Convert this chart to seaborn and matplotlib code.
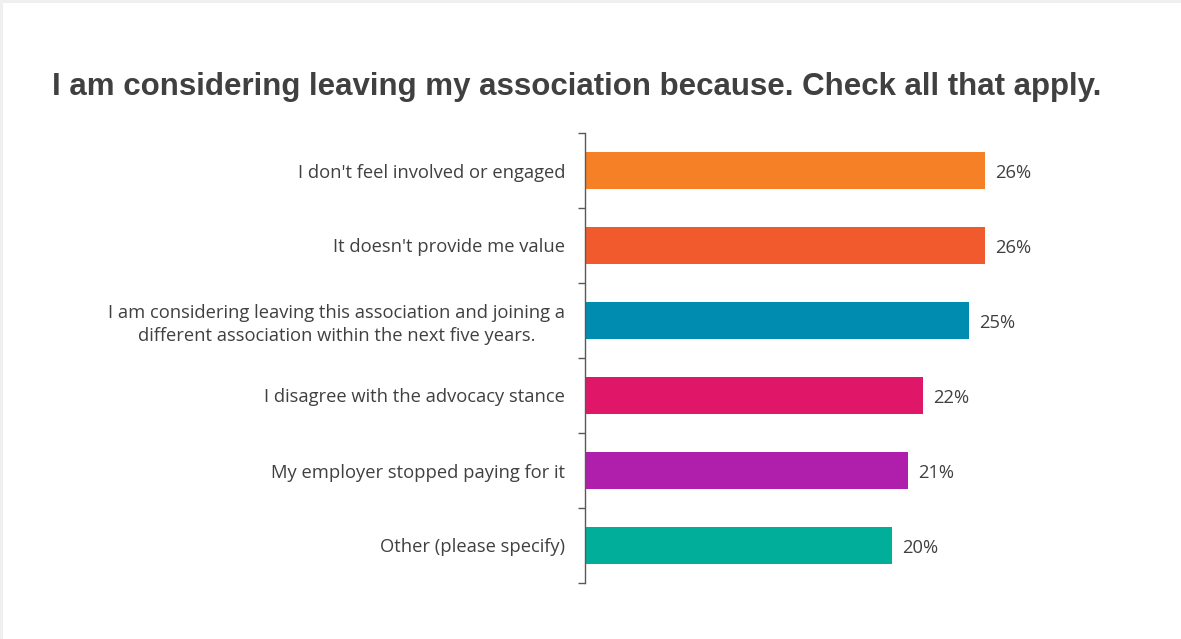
import matplotlib
matplotlib.use("Agg")
import matplotlib.pyplot as plt
import seaborn as sns
import pandas as pd

# Survey responses: reasons for leaving the association
reasons = [
    "I don't feel involved or engaged",
    "It doesn't provide me value",
    "I am considering leaving this association and joining a\ndifferent association within the next five years.",
    "I disagree with the advocacy stance",
    "My employer stopped paying for it",
    "Other (please specify)",
]
shares = [26, 26, 25, 22, 21, 20]
colors = ["#F58025", "#F05A2C", "#008BB0", "#E01768", "#B01EAC", "#00AE9A"]

title = "I am considering leaving my association because. Check all that apply."

df = pd.DataFrame({"reason": reasons, "share": shares})

sns.set_theme(style="white")
plt.rcParams["font.family"] = ["Open Sans", "DejaVu Sans"]

W, H = 1181, 639
fig = plt.figure(figsize=(W / 100, H / 100), dpi=100)
fig.patch.set_facecolor("white")

# thin grey card edge along the top and left
fig.patches.append(plt.Rectangle((0, 1 - 3 / H), 1, 3 / H, transform=fig.transFigure,
                                 facecolor="#EFEFEF", edgecolor="none", zorder=0))
fig.patches.append(plt.Rectangle((0, 0), 3 / W, 1, transform=fig.transFigure,
                                 facecolor="#EFEFEF", edgecolor="none", zorder=0))

ax = fig.add_axes([585 / W, 1 - 583 / H, 538 / W, 450 / H])

sns.barplot(data=df, y="reason", x="share", hue="reason", palette=colors,
            order=reasons, hue_order=reasons, width=0.5, legend=False,
            saturation=1, ax=ax, edgecolor="none")

ax.set_xlim(0, 35)
ax.set_ylim(len(reasons) - 0.5, -0.5)
ax.set_xlabel("")
ax.set_ylabel("")
ax.set_xticks([])

for side in ("top", "right", "bottom"):
    ax.spines[side].set_visible(False)
ax.spines["left"].set_color("#595959")
ax.spines["left"].set_linewidth(1.0)

# category labels, with short ticks sitting between the bars
ax.set_yticks(range(len(reasons)))
ax.set_yticklabels(reasons, fontsize=13.2, color="#404040", linespacing=1.3)
for lbl in ax.get_yticklabels():
    lbl.set_horizontalalignment("right")
    lbl.set_multialignment("center")
ax.tick_params(axis="y", which="major", length=0, pad=14.4)
ax.set_yticks([i - 0.5 for i in range(len(reasons) + 1)], minor=True)
ax.tick_params(axis="y", which="minor", length=5, width=1.0, color="#595959",
               direction="out", left=True)

for i, v in enumerate(shares):
    ax.text(v + 0.65, i + 0.03, f"{v}%", va="center", ha="left", fontsize=13.2,
            color="#404040")

fig.text(52 / W, 1 - 95 / H, title, fontsize=22.5, fontweight="bold",
         color="#404040", family="Liberation Sans", va="baseline", ha="left")

fig.savefig("out.png", dpi=100, facecolor=fig.get_facecolor())
